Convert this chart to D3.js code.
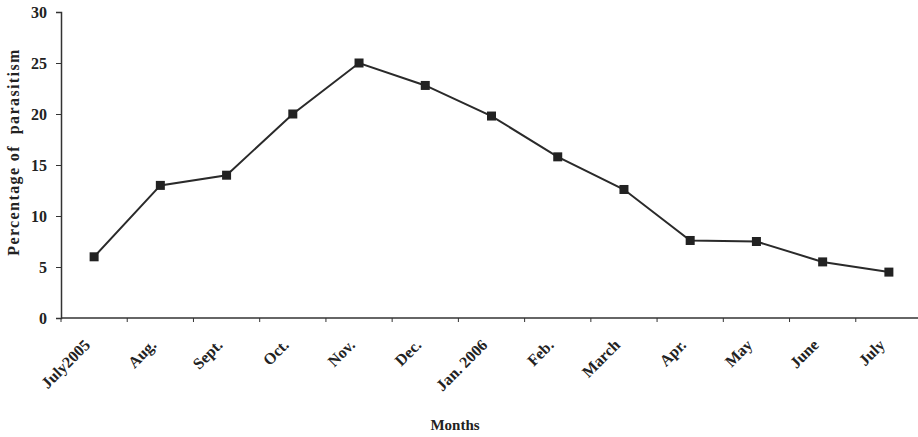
<!DOCTYPE html>
<html>
<head>
<meta charset="utf-8">
<script src="https://cdn.jsdelivr.net/npm/d3@7"></script>
<style>
  body { margin: 0; background: #fff; }
  text { font-family: "Liberation Serif", "Times New Roman", serif; font-weight: bold; fill: #222; }
</style>
</head>
<body>
<div id="chart-area"></div>
<script>
var months = ["July2005", "Aug.", "Sept.", "Oct.", "Nov.", "Dec.", "Jan. 2006",
  "Feb.", "March", "Apr.", "May", "June", "July"];
var parasitism = [6, 13, 14, 20, 25, 22.8, 19.8, 15.8, 12.6, 7.6, 7.5, 5.5, 4.5];
var yTicks = [0, 5, 10, 15, 20, 25, 30];

var width = 918, height = 437;
var plotLeft = 61, plotBottom = 318, plotTop = 12;

var svg = d3.select("#chart-area")
  .append("svg")
  .attr("width", width)
  .attr("height", height);

var x = d3.scaleBand().domain(months).range([plotLeft, 922]);
var y = d3.scaleLinear().domain([0, 30]).range([plotBottom, plotTop]);

// y axis
var yAxis = svg.append("g")
  .attr("transform", "translate(" + plotLeft + ",0)")
  .call(d3.axisLeft(y).tickValues(yTicks).tickSize(5).tickPadding(9));
yAxis.select(".domain").attr("stroke", "#333").attr("stroke-width", 1.5);
yAxis.selectAll(".tick line").attr("stroke", "#333");
yAxis.selectAll(".tick text")
  .style("font-size", "16px").style("font-family", "Liberation Serif").style("font-weight", "bold")
  .attr("fill", "#222");

// x axis (labels centred on the bands, ticks at band edges)
var xAxis = svg.append("g")
  .attr("transform", "translate(0," + plotBottom + ")")
  .call(d3.axisBottom(x).tickSize(0).tickSizeOuter(0));
xAxis.select(".domain").remove();
xAxis.append("line")
  .attr("x1", plotLeft).attr("x2", width)
  .attr("stroke", "#333").attr("stroke-width", 1.5);
xAxis.selectAll(".edge")
  .data(months)
  .enter()
  .append("line")
    .attr("x1", d => x(d)).attr("x2", d => x(d))
    .attr("y1", 0).attr("y2", 4)
    .attr("stroke", "#333");
xAxis.selectAll(".tick text")
  .style("font-size", "16px").style("font-family", "Liberation Serif").style("font-weight", "bold")
  .attr("fill", "#222")
  .attr("text-anchor", "end")
  .attr("dy", null)
  .attr("y", 0)
  .attr("transform", "translate(-3,28) rotate(-45)");

// line + markers
var line = d3.line()
  .x((d, i) => x(months[i]) + x.bandwidth() / 2)
  .y(d => y(d));

svg.append("path")
  .datum(parasitism)
  .attr("d", line)
  .attr("fill", "none")
  .attr("stroke", "#2a2a2a")
  .attr("stroke-width", 2);

svg.selectAll(".pt")
  .data(parasitism)
  .enter()
  .append("rect")
    .attr("x", (d, i) => x(months[i]) + x.bandwidth() / 2 - 4.5)
    .attr("y", d => y(d) - 4.5)
    .attr("width", 9)
    .attr("height", 9)
    .attr("fill", "#222");

// axis titles
svg.append("text")
  .attr("transform", "translate(19,152) rotate(-90)")
  .attr("text-anchor", "middle")
  .style("font-size", "16px")
  .style("letter-spacing", "1.4px")
  .style("white-space", "pre")
  .text("Percentage of  parasitism");

svg.append("text")
  .attr("x", 455)
  .attr("y", 430)
  .attr("text-anchor", "middle")
  .style("font-size", "15px")
  .text("Months");
</script>
</body>
</html>
